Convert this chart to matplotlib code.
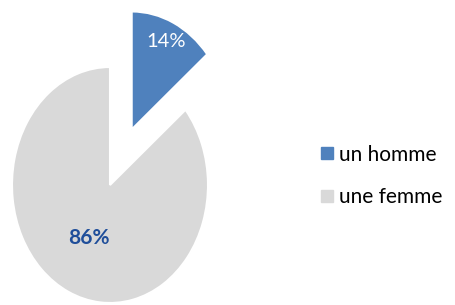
import matplotlib
matplotlib.use("Agg")
import matplotlib.pyplot as plt
from matplotlib.lines import Line2D

labels = ["un homme", "une femme"]
values = [14, 86]
colors = ["#4F81BD", "#D9D9D9"]
explode = [0.52, 0.0]

W, H = 456, 305
fig = plt.figure(figsize=(W / 100, H / 100), dpi=100)
ax = fig.add_axes([12 / W, 2 / H, 196 / W, 236 / H])

base_pct = 0.6
wedges, texts, autotexts = ax.pie(
    values, colors=colors, explode=explode, startangle=90, counterclock=False,
    autopct="%1.0f%%", pctdistance=base_pct,
    wedgeprops=dict(edgecolor="white", linewidth=1.5),
    textprops=dict(family="Lato", fontsize=14),
)
ax.set_aspect("auto")
ax.set_xlim(-1, 1)
ax.set_ylim(-1, 1)
for w in wedges:
    w.set_clip_on(False)

# per-slice label distance, scaled from the library's own placement
label_dist = [0.82, 0.5]
for w, t, d in zip(wedges, autotexts, label_dist):
    cx, cy = w.center
    x, y = t.get_position()
    t.set_position((cx + (x - cx) * d / base_pct, cy + (y - cy) * d / base_pct))

autotexts[0].set_color("white")
autotexts[0].set_fontsize(14.5)
autotexts[1].set_color("#1F4E9A")
autotexts[1].set_fontweight("bold")
autotexts[1].set_fontsize(15)

handles = [Line2D([], [], marker="s", linestyle="none", markersize=8,
                  markerfacecolor=c, markeredgecolor=c) for c in colors]
fig.legend(handles, labels, loc="center left", bbox_to_anchor=(311 / W, 1 - 176 / H),
           frameon=False, prop=dict(family="Lato", size=15), handlelength=0.5,
           handletextpad=0.35, labelspacing=1.1, borderpad=0)

fig.savefig("out.png", dpi=100, facecolor="white")
